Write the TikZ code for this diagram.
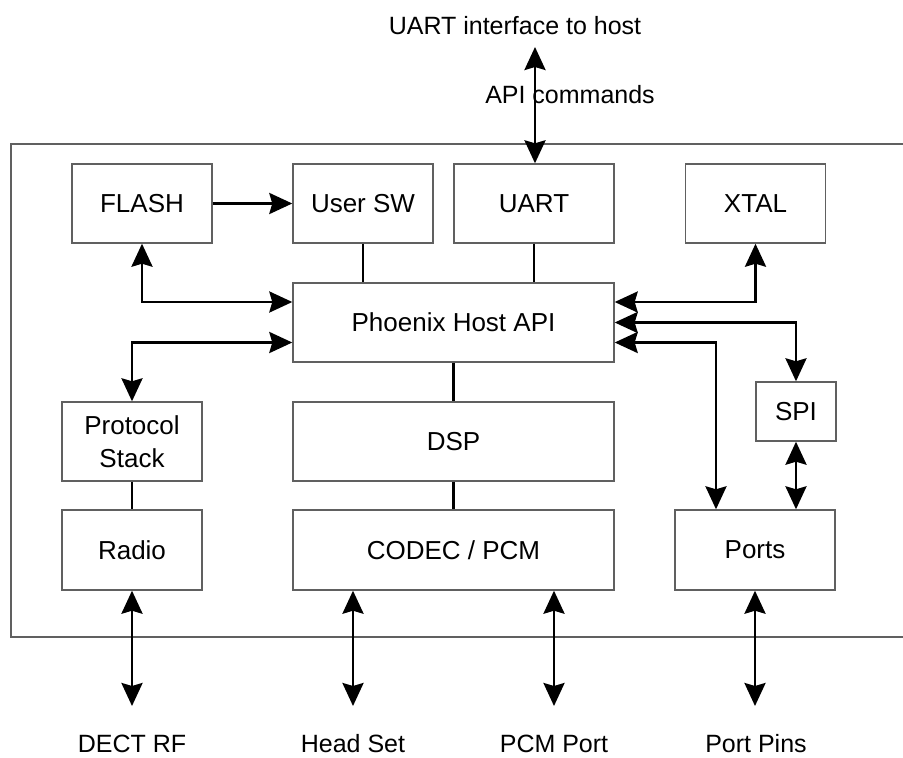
\documentclass[tikz,border=0pt]{standalone}
\usepackage{fontspec}
\setmainfont{Liberation Sans}
\usetikzlibrary{arrows.meta}
\definecolor{boxgray}{HTML}{606060}
\begin{document}
\begin{tikzpicture}[x=1pt,y=-1pt,
    >={Stealth[length=23pt,width=21pt,inset=3pt]},
    block/.style={draw=boxgray,line width=1.4pt,inner sep=0pt,
      minimum width=140pt,minimum height=79pt,
      font=\fontsize{26}{33}\selectfont,align=center},
    lbl/.style={inner sep=0pt,font=\fontsize{25}{30}\selectfont},
    link/.style={line width=2.8pt}]
  \useasboundingbox (0,0) rectangle (903,758);
  \draw[boxgray,line width=1.4pt] (903,144) -- (11,144) -- (11,637) -- (903,637);

  \node[block] (flash) at (142,203.5) {FLASH};
  \node[block] (usersw) at (363,203.5) {User SW};
  \node[block,minimum width=160pt] (uart) at (534,203.5) {UART};
  \node[block] (xtal) at (755.5,203.5) {XTAL};
  \node[block,minimum width=321pt] (phoenix) at (453.5,322.5) {Phoenix Host API};
  \node[block] (protocol) at (132,441.5) {Protocol\\Stack};
  \node[block,minimum width=321pt] (dsp) at (453.5,441.5) {DSP};
  \node[block,minimum width=80pt,minimum height=59pt] (spi) at (796,411.5) {SPI};
  \node[block,minimum height=80pt] (radio) at (132,550) {Radio};
  \node[block,minimum width=321pt,minimum height=80pt] (codec) at (453.5,550) {CODEC / PCM};
  \node[block,minimum width=160pt,minimum height=80pt] (ports) at (755,550) {Ports};

  \node[lbl] (host) at (515,26) {UART interface to host};
  \node[lbl] (api) at (570,95) {API commands};
  \node[lbl] (rf) at (132,744) {DECT RF};
  \node[lbl] (headset) at (353,744) {Head Set};
  \node[lbl] (pcmport) at (554,744) {PCM Port};
  \node[lbl] (pins) at (756,744) {Port Pins};

  \coordinate (hostend) at (535,47);
  \coordinate (rfend) at (132,706);
  \coordinate (headsetend) at (353,706);
  \coordinate (pcmend) at (554,706);
  \coordinate (pinsend) at (755,706);

  \begin{scope}[link]
    \draw (usersw.south) -- (usersw.south |- phoenix.north);
    \draw (uart.south) -- (uart.south |- phoenix.north);
    \draw (phoenix.south) -- (dsp.north);
    \draw (dsp.south) -- (codec.north);
    \draw (protocol.south) -- (radio.north);
    \draw[->] (flash.east) -- (usersw.west);
  \end{scope}

  \begin{scope}[link,<->]
    \draw (hostend) -- (hostend |- uart.north);
    \draw (flash.south) |- ([yshift=20.5pt]phoenix.west);
    \draw ([yshift=-20pt]phoenix.west) -| (protocol.north);
    \draw (xtal.south) |- ([yshift=20.5pt]phoenix.east);
    \draw (phoenix.east) -| (spi.north);
    \draw ([yshift=-20pt]phoenix.east) -| ([xshift=-39pt]ports.north);
    \draw (spi.south) -- (spi.south |- ports.north);
    \draw (radio.south) -- (rfend);
    \draw (headsetend |- codec.south) -- (headsetend);
    \draw (pcmend |- codec.south) -- (pcmend);
    \draw (ports.south) -- (pinsend);
  \end{scope}
\end{tikzpicture}
\end{document}
